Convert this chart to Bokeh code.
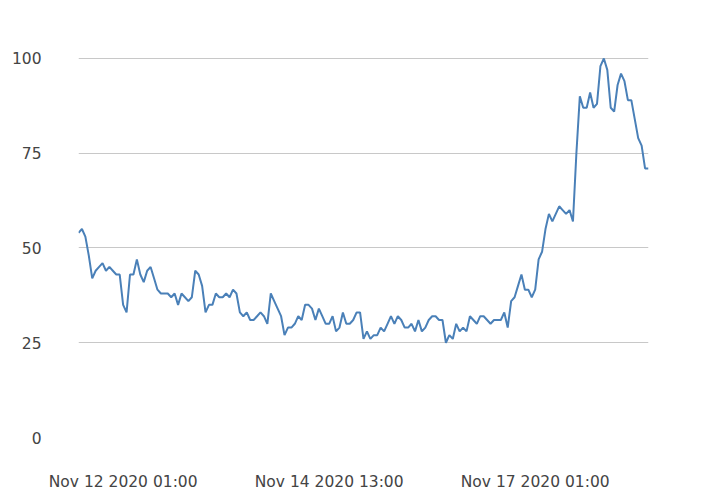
import pandas as pd
from bokeh.plotting import figure
from bokeh.models import Range1d, FixedTicker, DatetimeTickFormatter, ColumnDataSource
from bokeh.embed import file_html
from bokeh.resources import INLINE

start_time = "2020-11-11 12:00"
values = [54, 55, 53, 48, 42, 44, 45, 46, 44, 45,
          44, 43, 43, 35, 33, 43, 43, 47, 43, 41,
          44, 45, 42, 39, 38, 38, 38, 37, 38, 35,
          38, 37, 36, 37, 44, 43, 40, 33, 35, 35,
          38, 37, 37, 38, 37, 39, 38, 33, 32, 33,
          31, 31, 32, 33, 32, 30, 38, 36, 34, 32,
          27, 29, 29, 30, 32, 31, 35, 35, 34, 31,
          34, 32, 30, 30, 32, 28, 29, 33, 30, 30,
          31, 33, 33, 26, 28, 26, 27, 27, 29, 28,
          30, 32, 30, 32, 31, 29, 29, 30, 28, 31,
          28, 29, 31, 32, 32, 31, 31, 25, 27, 26,
          30, 28, 29, 28, 32, 31, 30, 32, 32, 31,
          30, 31, 31, 31, 33, 29, 36, 37, 40, 43,
          39, 39, 37, 39, 47, 49, 55, 59, 57, 59,
          61, 60, 59, 60, 57, 75, 90, 87, 87, 91,
          87, 88, 98, 100, 97, 87, 86, 93, 96, 94,
          89, 89, 84, 79, 77, 71, 71]
x_tick_labels = ["2020-11-12 01:00", "2020-11-14 13:00", "2020-11-17 01:00"]
y_ticks = [0, 25, 50, 75, 100]
grid_ticks = [25, 50, 75, 100]

times = pd.date_range(start_time, periods=len(values), freq="h")
src = ColumnDataSource(dict(t=times, v=values))

p = figure(width=709, height=493, x_axis_type="datetime",
           output_backend="svg", toolbar_location=None, title=None,
           x_range=Range1d(times[0], times[-1]), y_range=Range1d(0, 102.63),
           min_border_left=78, min_border_right=61, min_border_top=48,
           min_border_bottom=55)
p.outline_line_color = None
p.background_fill_color = "white"

p.line("t", "v", source=src, line_color="#4a80b8", line_width=2)

p.xgrid.visible = False
p.ygrid.ticker = FixedTicker(ticks=grid_ticks)
p.ygrid.grid_line_color = "#c8c8c8"
p.ygrid.grid_line_width = 1

tick_ms = [pd.Timestamp(s).value / 1e6 for s in x_tick_labels]
p.xaxis.ticker = FixedTicker(ticks=tick_ms)
fmt = "%b %d %Y %H:%M"
p.xaxis.formatter = DatetimeTickFormatter(
    microseconds=fmt, milliseconds=fmt, seconds=fmt, minsec=fmt, minutes=fmt,
    hourmin=fmt, hours=fmt, days=fmt, months=fmt, years=fmt)
p.yaxis.ticker = FixedTicker(ticks=y_ticks)

for ax in (p.xaxis, p.yaxis):
    ax.axis_line_color = None
    ax.major_tick_line_color = None
    ax.minor_tick_line_color = None
    ax.major_tick_out = 0
    ax.major_tick_in = 0
    ax.major_label_text_font = "DejaVu Sans"
    ax.major_label_text_font_size = "15.5px"
    ax.major_label_text_color = "#444444"
p.yaxis.major_label_standoff = 37
p.xaxis.major_label_standoff = 35

open("out.html", "w").write(file_html(p, INLINE))
